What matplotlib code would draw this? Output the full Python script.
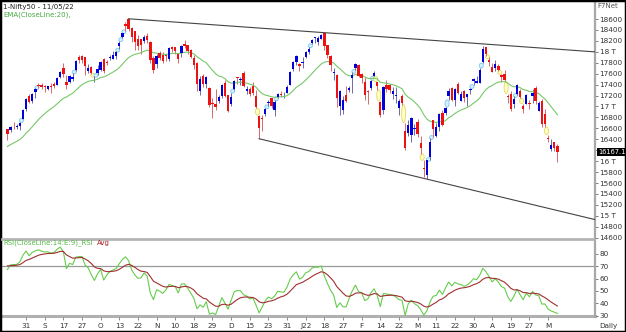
import numpy as np
import matplotlib
matplotlib.use("Agg")
import matplotlib.pyplot as plt
from matplotlib.patches import Ellipse, Rectangle
from matplotlib.lines import Line2D

# ---------------- data (Nifty 50 daily, 23 Aug 2021 - 11 May 2022) ----------------
warmup_closes = [15692, 15812, 15854, 15924, 15923, 15752, 15632, 15824, 15856, 15824,
                 15746, 15709, 15778, 15763, 15885, 16130, 16259, 16295, 16238, 16258,
                 16281, 16282, 16365, 16529, 16563, 16615, 16569, 16451]

opens = [
    # Aug
    16592, 16561, 16648, 16627, 16642, 16775, 16948,
    # Sep
    17185, 17095, 17262, 17400, 17401, 17375, 17313, 17364, 17420, 17387, 17540, 17709, 17443, 17450,
    17508, 17670, 17898, 17932, 17906, 17657, 17719,
    # Oct
    17531, 17615, 17661, 17861, 17810, 17887, 17867, 17916, 18097, 18273, 18500, 18602, 18440, 18382,
    18230, 18230, 18190, 18295, 18187, 17891,
    # Nov
    17784, 17970, 17947, 17935, 17867, 18085, 18084, 17967, 17977, 18141, 18128, 18042, 17890, 17796,
    17282, 17550, 17417, 17339, 17056, 17051,
    # Dec
    17104, 17183, 17425, 17209, 17044, 17315, 17524, 17476, 17619, 17283, 17323, 17374, 17196, 16825,
    16773, 16865, 17067, 17150, 16937, 17178, 17221, 17201, 17244,
    # Jan
    17388, 17681, 17820, 17768, 17798, 17913, 17997, 18170, 18257, 18185, 18235, 18337, 18118, 17921,
    17614, 17575, 17001, 16929, 17208, 17301,
    # Feb
    17529, 17706, 17767, 17590, 17456, 17280, 17339, 17554, 17450, 17076, 16933, 17397, 17398, 17237,
    17193, 16970, 17194, 16548, 16516, 16481,
    # Mar
    16593, 16724, 16339, 15867, 15747, 16078, 16757, 16457, 16633, 16877, 16876, 17193, 17329, 17120,
    17405, 17094, 17289, 17182, 17297, 17468, 17436,
    # Apr
    17437, 17810, 18080, 17843, 17724, 17698, 17740, 17584, 17599, 17183, 17234, 17045, 17234, 17282,
    17009, 17045, 17068, 17190, 17329,
    # May
    16925, 17096, 16854, 16415, 16227, 16349, 16270,
]
highs = [
    16592, 16634, 16712, 16683, 16722, 16951, 17153,
    17226, 17246, 17340, 17429, 17437, 17384, 17379, 17438, 17439, 17532, 17644, 17792, 17578, 17578,
    17610, 17843, 17947, 17943, 17912, 17781, 17743,
    17557, 17750, 17833, 17884, 17858, 17941, 18008, 18009, 18197, 18351, 18543, 18604, 18458, 18384,
    18315, 18241, 18311, 18342, 18190, 17916,
    17954, 18012, 17988, 17947, 18088, 18112, 18084, 17977, 18124, 18210, 18132, 18056, 17946, 17806,
    17553, 17600, 17564, 17355, 17160, 17325,
    17214, 17420, 17490, 17216, 17251, 17484, 17543, 17534, 17640, 17376, 17351, 17439, 17298, 16840,
    16837, 16971, 17118, 17156, 17112, 17250, 17285, 17265, 17400,
    17646, 17827, 17945, 17797, 17905, 18017, 18081, 18227, 18272, 18287, 18322, 18350, 18130, 17944,
    17707, 17599, 17310, 17183, 17373, 17381,
    17622, 17794, 17781, 17617, 17536, 17306, 17477, 17640, 17454, 17099, 17375, 17490, 17408, 17351,
    17352, 17134, 17220, 16705, 16748, 16815,
    16678, 16768, 16456, 16013, 16028, 16418, 16757, 16694, 16888, 16927, 16988, 17344, 17353, 17334,
    17443, 17291, 17295, 17235, 17343, 17522, 17556,
    17704, 18114, 18095, 17902, 17787, 17842, 17779, 17596, 17663, 17237, 17275, 17186, 17414, 17315,
    17054, 17223, 17110, 17322, 17378,
    17092, 17133, 16945, 16484, 16403, 16349, 16318,
]
lows = [
    16395, 16535, 16589, 16580, 16565, 16764, 16916,
    17055, 17059, 17150, 17346, 17326, 17271, 17303, 17254, 17345, 17386, 17517, 17537, 17327, 17437,
    17458, 17646, 17799, 17802, 17576, 17614, 17585,
    17453, 17581, 17640, 17613, 17757, 17841, 17865, 17865, 18051, 18248, 18381, 18377, 18184, 18033,
    18034, 17968, 18157, 18167, 17799, 17613,
    17697, 17846, 17799, 17836, 17836, 17996, 17967, 17799, 17905, 18071, 17958, 17888, 17688, 17280,
    17216, 17354, 17341, 16983, 16782, 16931,
    17065, 17150, 17181, 16891, 17003, 17308, 17410, 17401, 17355, 17225, 17192, 17211, 16967, 16410,
    16555, 16819, 17015, 16970, 16834, 17161, 17176, 17146, 17238,
    17384, 17645, 17750, 17655, 17704, 17880, 17964, 18139, 18163, 18120, 18228, 18037, 17884, 17648,
    17485, 16997, 16836, 16867, 17077, 17264,
    17244, 17658, 17537, 17434, 17119, 17043, 17301, 17553, 17303, 16810, 16869, 17257, 17250, 17140,
    17070, 16844, 17029, 16203, 16457, 16357,
    16478, 16443, 16133, 15711, 15671, 16029, 16447, 16447, 16555, 16649, 16839, 17120, 17096, 17006,
    17223, 17091, 17076, 17004, 17235, 17387, 17422,
    17422, 17791, 17921, 17748, 17623, 17654, 17650, 17442, 17458, 17067, 16925, 16979, 17216, 17149,
    16889, 17045, 16958, 17071, 17054,
    16917, 16623, 16623, 16341, 16185, 16187, 15992,
]
closes = [
    16496, 16625, 16634, 16636, 16705, 16931, 17132,
    17076, 17234, 17324, 17377, 17362, 17353, 17369, 17355, 17380, 17519, 17629, 17585, 17397, 17562,
    17546, 17823, 17853, 17855, 17748, 17711, 17618,
    17532, 17692, 17822, 17646, 17790, 17895, 17946, 17992, 18162, 18339, 18477, 18419, 18267, 18179,
    18115, 18126, 18268, 18211, 17857, 17672,
    17930, 17889, 17830, 17916, 18069, 18044, 18017, 17874, 18103, 18109, 18017, 17899, 17765, 17417,
    17504, 17416, 17536, 17027, 17054, 16983,
    17167, 17401, 17197, 16913, 17177, 17470, 17517, 17511, 17368, 17325, 17221, 17248, 16985, 16615,
    16771, 16955, 17072, 17004, 17086, 17234, 17214, 17204, 17354,
    17625, 17805, 17925, 17746, 17813, 18003, 18056, 18212, 18258, 18256, 18309, 18113, 17938, 17757,
    17617, 17149, 17278, 17110, 17102, 17340,
    17577, 17780, 17560, 17516, 17214, 17266, 17464, 17606, 17375, 16843, 17352, 17322, 17304, 17276,
    17207, 17092, 17063, 16248, 16658, 16794,
    16606, 16498, 16245, 15863, 16013, 16345, 16594, 16630, 16871, 16663, 16975, 17287, 17117, 17316,
    17246, 17223, 17153, 17222, 17325, 17498, 17465,
    17670, 18053, 17957, 17807, 17639, 17784, 17675, 17530, 17476, 17174, 16959, 17137, 17393, 17172,
    16954, 17201, 17039, 17245, 17103,
    17069, 16678, 16683, 16411, 16302, 16240, 16167.1,
]

x_tick_labels = ["31", "S", "17", "27", "O", "13", "22", "N", "10", "18", "29", "D", "15", "23",
                 "31", "J22", "18", "27", "F", "14", "22", "M", "11", "22", "30", "A", "19", "27", "M"]
x_tick_step = 6

# trendline anchors (bar index): upper through two swing highs, lower through two swing lows
upper_anchor_bars = [39, 102]   # 19-Oct-21 high, 18-Jan-22 high
lower_anchor_bars = [81, 135]   # 20-Dec-21 low, 08-Mar-22 low

price_ticks = list(range(14600, 18601, 200))
rsi_ticks = [30, 40, 50, 60, 70, 80]

# ---------------- indicators ----------------
o = np.array(opens, float); h = np.array(highs, float)
l = np.array(lows, float); c = np.array(closes, float)
n = len(c)
xs = np.arange(n)
allc = np.array(warmup_closes + closes, float)
nw = len(warmup_closes)

def ema(vals, period):
    k = 2.0 / (period + 1)
    out = np.empty_like(vals)
    out[0] = vals[0]
    for i in range(1, len(vals)):
        out[i] = out[i - 1] + k * (vals[i] - out[i - 1])
    return out

ema20 = ema(allc, 20)[nw:]

def rsi(vals, period=14):
    d = np.diff(vals)
    g = np.where(d > 0, d, 0.0); ls = np.where(d < 0, -d, 0.0)
    ag = g[:period].mean(); al = ls[:period].mean()
    out = np.full(len(vals), np.nan)
    out[period] = 100 - 100 / (1 + ag / al)
    for i in range(period, len(d)):
        ag = (ag * (period - 1) + g[i]) / period
        al = (al * (period - 1) + ls[i]) / period
        out[i + 1] = 100 - 100 / (1 + ag / al)
    return out

rsi_all = rsi(allc, 14)
valid = ~np.isnan(rsi_all)
rsi_avg_all = np.full(len(allc), np.nan)
rsi_avg_all[valid] = ema(rsi_all[valid], 9)
rsi_v = rsi_all[nw:]
rsi_avg = rsi_avg_all[nw:]

# ---------------- figure ----------------
W, H = 626, 332
fig = plt.figure(figsize=(W / 100, H / 100), dpi=100)
fig.patch.set_facecolor("white")
FS = 5.2
FT = 5.0

def fx(px): return px / W
def fy(py): return 1 - py / H

ax = fig.add_axes([fx(2), fy(238), fx(595) - fx(2), fy(2) - fy(238)])
axr = fig.add_axes([fx(2), fy(317), fx(595) - fx(2), fy(240) - fy(317)])
XL = (-1.74, 189.1)

# candles
up = c >= o
body_h = np.maximum(np.abs(c - o), 14)
body_b = np.minimum(o, c)
ax.vlines(xs[up], l[up], h[up], color="#6a6ab0", lw=0.7, zorder=2)
ax.vlines(xs[~up], l[~up], h[~up], color="#d86a6a", lw=0.7, zorder=2)
ax.bar(xs[up], body_h[up], bottom=body_b[up], width=0.75, color="#0000dd", lw=0, zorder=3)
ax.bar(xs[~up], body_h[~up], bottom=body_b[~up], width=0.75, color="#ee1111", lw=0, zorder=3)

# gap markers
for i in range(1, n):
    if l[i] > h[i - 1]:
        lo_, hi_, fc, ec = h[i - 1], l[i], "#d6f0ff", "#7cc8f0"
    elif h[i] < l[i - 1]:
        lo_, hi_, fc, ec = h[i], l[i - 1], "#ffffc8", "#e6d860"
    else:
        continue
    ht = max(hi_ - lo_, 70)
    ax.add_patch(Ellipse((i - 0.5, (lo_ + hi_) / 2), 1.3, ht, facecolor=fc, edgecolor=ec,
                         lw=0.6, zorder=1.5))

# EMA
ax.plot(xs, ema20, color="#77c86a", lw=0.8, zorder=2.5)

# trendlines
def trend(bars, vals):
    b0, b1 = bars
    p0, p1 = vals[b0], vals[b1]
    slope = (p1 - p0) / (b1 - b0)
    return [b0, XL[1]], [p0, p0 + slope * (XL[1] - b0)]

ux, uy = trend(upper_anchor_bars, h)
lx, ly = trend(lower_anchor_bars, l)
ax.plot(ux, uy, color="#444444", lw=0.8, zorder=4)
ax.plot(lx, ly, color="#444444", lw=0.8, zorder=4)

ax.set_xlim(*XL)
ax.set_ylim(14594, 18911)
for s in ["top", "left", "bottom"]:
    ax.spines[s].set_visible(False)
ax.spines["right"].set_color("#a8a8a8")
ax.spines["right"].set_linewidth(1.6)
ax.set_xticks([])
ax.yaxis.tick_right()
ax.set_yticks(price_ticks)
last_close = closes[-1]

def price_label(v):
    # the level hidden behind the last-price box shows no label
    if abs(v - last_close) < 100:
        return ""
    return f"{v // 1000} T" if v % 1000 == 0 else str(v)

ax.set_yticklabels([price_label(v) for v in price_ticks])
ax.tick_params(axis="y", direction="out", length=2.5, width=0.6, colors="#666666",
               labelcolor="#333333", labelsize=FS, pad=0.8)

# RSI panel
axr.plot(xs, rsi_v, color="#66cc4c", lw=0.8, zorder=3)
axr.plot(xs, rsi_avg, color="#a03030", lw=0.8, zorder=3.5)
axr.axhline(70, color="#9a9a9a", lw=0.9, zorder=1)
axr.axhline(30, color="#b0b0b0", lw=2.2, zorder=1, clip_on=False)
axr.set_xlim(*XL)
axr.set_ylim(28.9, 91.3)
for s in ["top", "left", "bottom"]:
    axr.spines[s].set_visible(False)
axr.spines["right"].set_color("#a8a8a8")
axr.spines["right"].set_linewidth(1.6)
axr.yaxis.tick_right()
axr.set_yticks(rsi_ticks)
axr.tick_params(axis="y", direction="out", length=2.5, width=0.6, colors="#666666",
                labelcolor="#333333", labelsize=FS, pad=0.8)
tick_pos = list(range(x_tick_step, x_tick_step * (len(x_tick_labels) + 1), x_tick_step))
axr.set_xticks(tick_pos)
axr.set_xticklabels(x_tick_labels)
axr.tick_params(axis="x", direction="out", length=2, width=0.6, colors="#777777",
                labelcolor="#333333", labelsize=FS, pad=2)

# separators
fig.add_artist(Line2D([fx(2), fx(593)], [fy(238.5), fy(238.5)], color="#b4b4b4", lw=2))

# texts
fig.text(fx(3), fy(6.5), "1-Nifty50 - 11/05/22", fontsize=FT, va="center", color="#222222")
fig.text(fx(3), fy(14.5), "EMA(CloseLine:20),", fontsize=FT, va="center", color="#44aa44")
fig.text(fx(608), fy(6.5), "F7Net", fontsize=FT, va="center", ha="center", color="#555555")
t1 = fig.text(fx(3), fy(243), "RSI(CloseLine:14:E:9)_RSI", fontsize=FT, va="center", color="#55bb44")
fig.canvas.draw()
ext = t1.get_window_extent()
fig.text((ext.x1 + 4) / W, fy(243), "Avg", fontsize=FT, va="center", color="#aa2222")
fig.text(fx(608), fy(326), "Daily", fontsize=FS, va="center", ha="center", color="#333333")
fig.text(fx(598), fy(152), f"{last_close:.1f}", fontsize=4.8, va="center", ha="left", color="white",
         bbox=dict(facecolor="black", edgecolor="none", pad=0.5), zorder=10)

fig.add_artist(Rectangle((0, 0), 1, 1, transform=fig.transFigure, fill=False,
                         edgecolor="black", lw=2.5))

fig.savefig("out.png", dpi=100)
